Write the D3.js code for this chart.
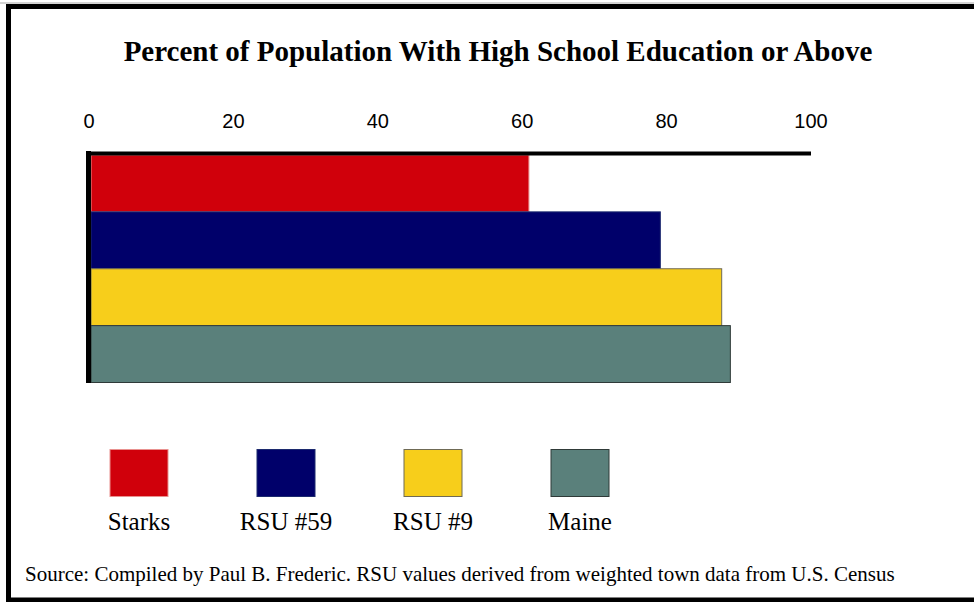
<!DOCTYPE html>
<html>
<head>
<meta charset="utf-8">
<script src="https://cdn.jsdelivr.net/npm/d3@7"></script>
<style>
  html, body { margin: 0; padding: 0; background: #ffffff; }
  svg { display: block; }
</style>
</head>
<body>
<svg id="chart" width="974" height="602"></svg>
<script>
// Share of adults (25+) with a high school diploma or higher, in percent
const categories = ["Starks", "RSU #59", "RSU #9", "Maine"];
const values = [61.0, 79.2, 87.7, 88.9];
const tickValues = [0, 20, 40, 60, 80, 100];
const titleText = "Percent of Population With High School Education or Above";
const sourceText = "Source: Compiled by Paul B. Frederic. RSU values derived from weighted town data from U.S. Census";

const fills = ["#d0000b", "#00006a", "#f7ce1b", "#5a807b"];
const outlines = ["#e9918f", "#1c2a6e", "#6f6a55", "#2f3a38"];

const svg = d3.select("#chart");

// outer frame: open on the right-hand side
svg.append("line").attr("x1", 0).attr("x2", 974).attr("y1", 3).attr("y2", 3)
  .attr("stroke", "#a8a8a8").attr("stroke-width", 1);
svg.append("path")
  .attr("d", "M974,6.5H8.5V600H974")
  .attr("fill", "none").attr("stroke", "#000").attr("stroke-width", 5);

// title
svg.append("text")
  .attr("x", 498).attr("y", 61)
  .attr("text-anchor", "middle")
  .attr("font-family", "'Liberation Serif', 'Times New Roman', serif")
  .attr("font-weight", "bold")
  .attr("font-size", 29)
  .attr("fill", "#000")
  .text(titleText);

// scales
const x = d3.scaleLinear().domain([0, 100]).range([88.5, 810.5]);
const y = d3.scaleBand().domain(categories).range([155, 382.5]).padding(0);
const color = d3.scaleOrdinal().domain(categories).range(fills);
const edge = d3.scaleOrdinal().domain(categories).range(outlines);

// bars
svg.append("g").selectAll("rect")
  .data(categories)
  .join("rect")
  .attr("x", x(0) + 2.5)
  .attr("y", d => y(d))
  .attr("width", (d, i) => x(values[i]) - x(0) - 2.5)
  .attr("height", y.bandwidth())
  .attr("fill", d => color(d))
  .attr("stroke", d => edge(d))
  .attr("stroke-width", 1);

// value axis along the top
const axis = d3.axisTop(x)
  .tickValues(tickValues)
  .tickSize(0)
  .tickSizeOuter(0)
  .tickPadding(25)
  .tickFormat(d3.format("d"));

const gAxis = svg.append("g")
  .attr("transform", "translate(0,153)")
  .call(axis);
gAxis.select(".domain").attr("stroke", "#000").attr("stroke-width", 4);
gAxis.selectAll("text")
  .attr("font-family", "'Liberation Sans', Arial, sans-serif")
  .attr("font-size", 20)
  .attr("fill", "#000");

// category axis line on the left
svg.append("line")
  .attr("x1", 88.5).attr("x2", 88.5)
  .attr("y1", 151).attr("y2", 383)
  .attr("stroke", "#000").attr("stroke-width", 5);

// legend
const legendX = d3.scalePoint().domain(categories).range([139, 580]);
const legend = svg.append("g").selectAll("g")
  .data(categories)
  .join("g")
  .attr("transform", d => `translate(${legendX(d)},0)`);
legend.append("rect")
  .attr("x", -29).attr("y", 449.5)
  .attr("width", 58).attr("height", 47)
  .attr("fill", d => color(d))
  .attr("stroke", d => edge(d))
  .attr("stroke-width", 1);
legend.append("text")
  .attr("x", 0).attr("y", 530)
  .attr("text-anchor", "middle")
  .attr("font-family", "'Liberation Serif', 'Times New Roman', serif")
  .attr("font-size", 25)
  .attr("fill", "#000")
  .text(d => d);

// source note
svg.append("text")
  .attr("x", 25).attr("y", 581)
  .attr("font-family", "'Liberation Serif', 'Times New Roman', serif")
  .attr("font-size", 21)
  .attr("fill", "#000")
  .text(sourceText);
</script>
</body>
</html>
